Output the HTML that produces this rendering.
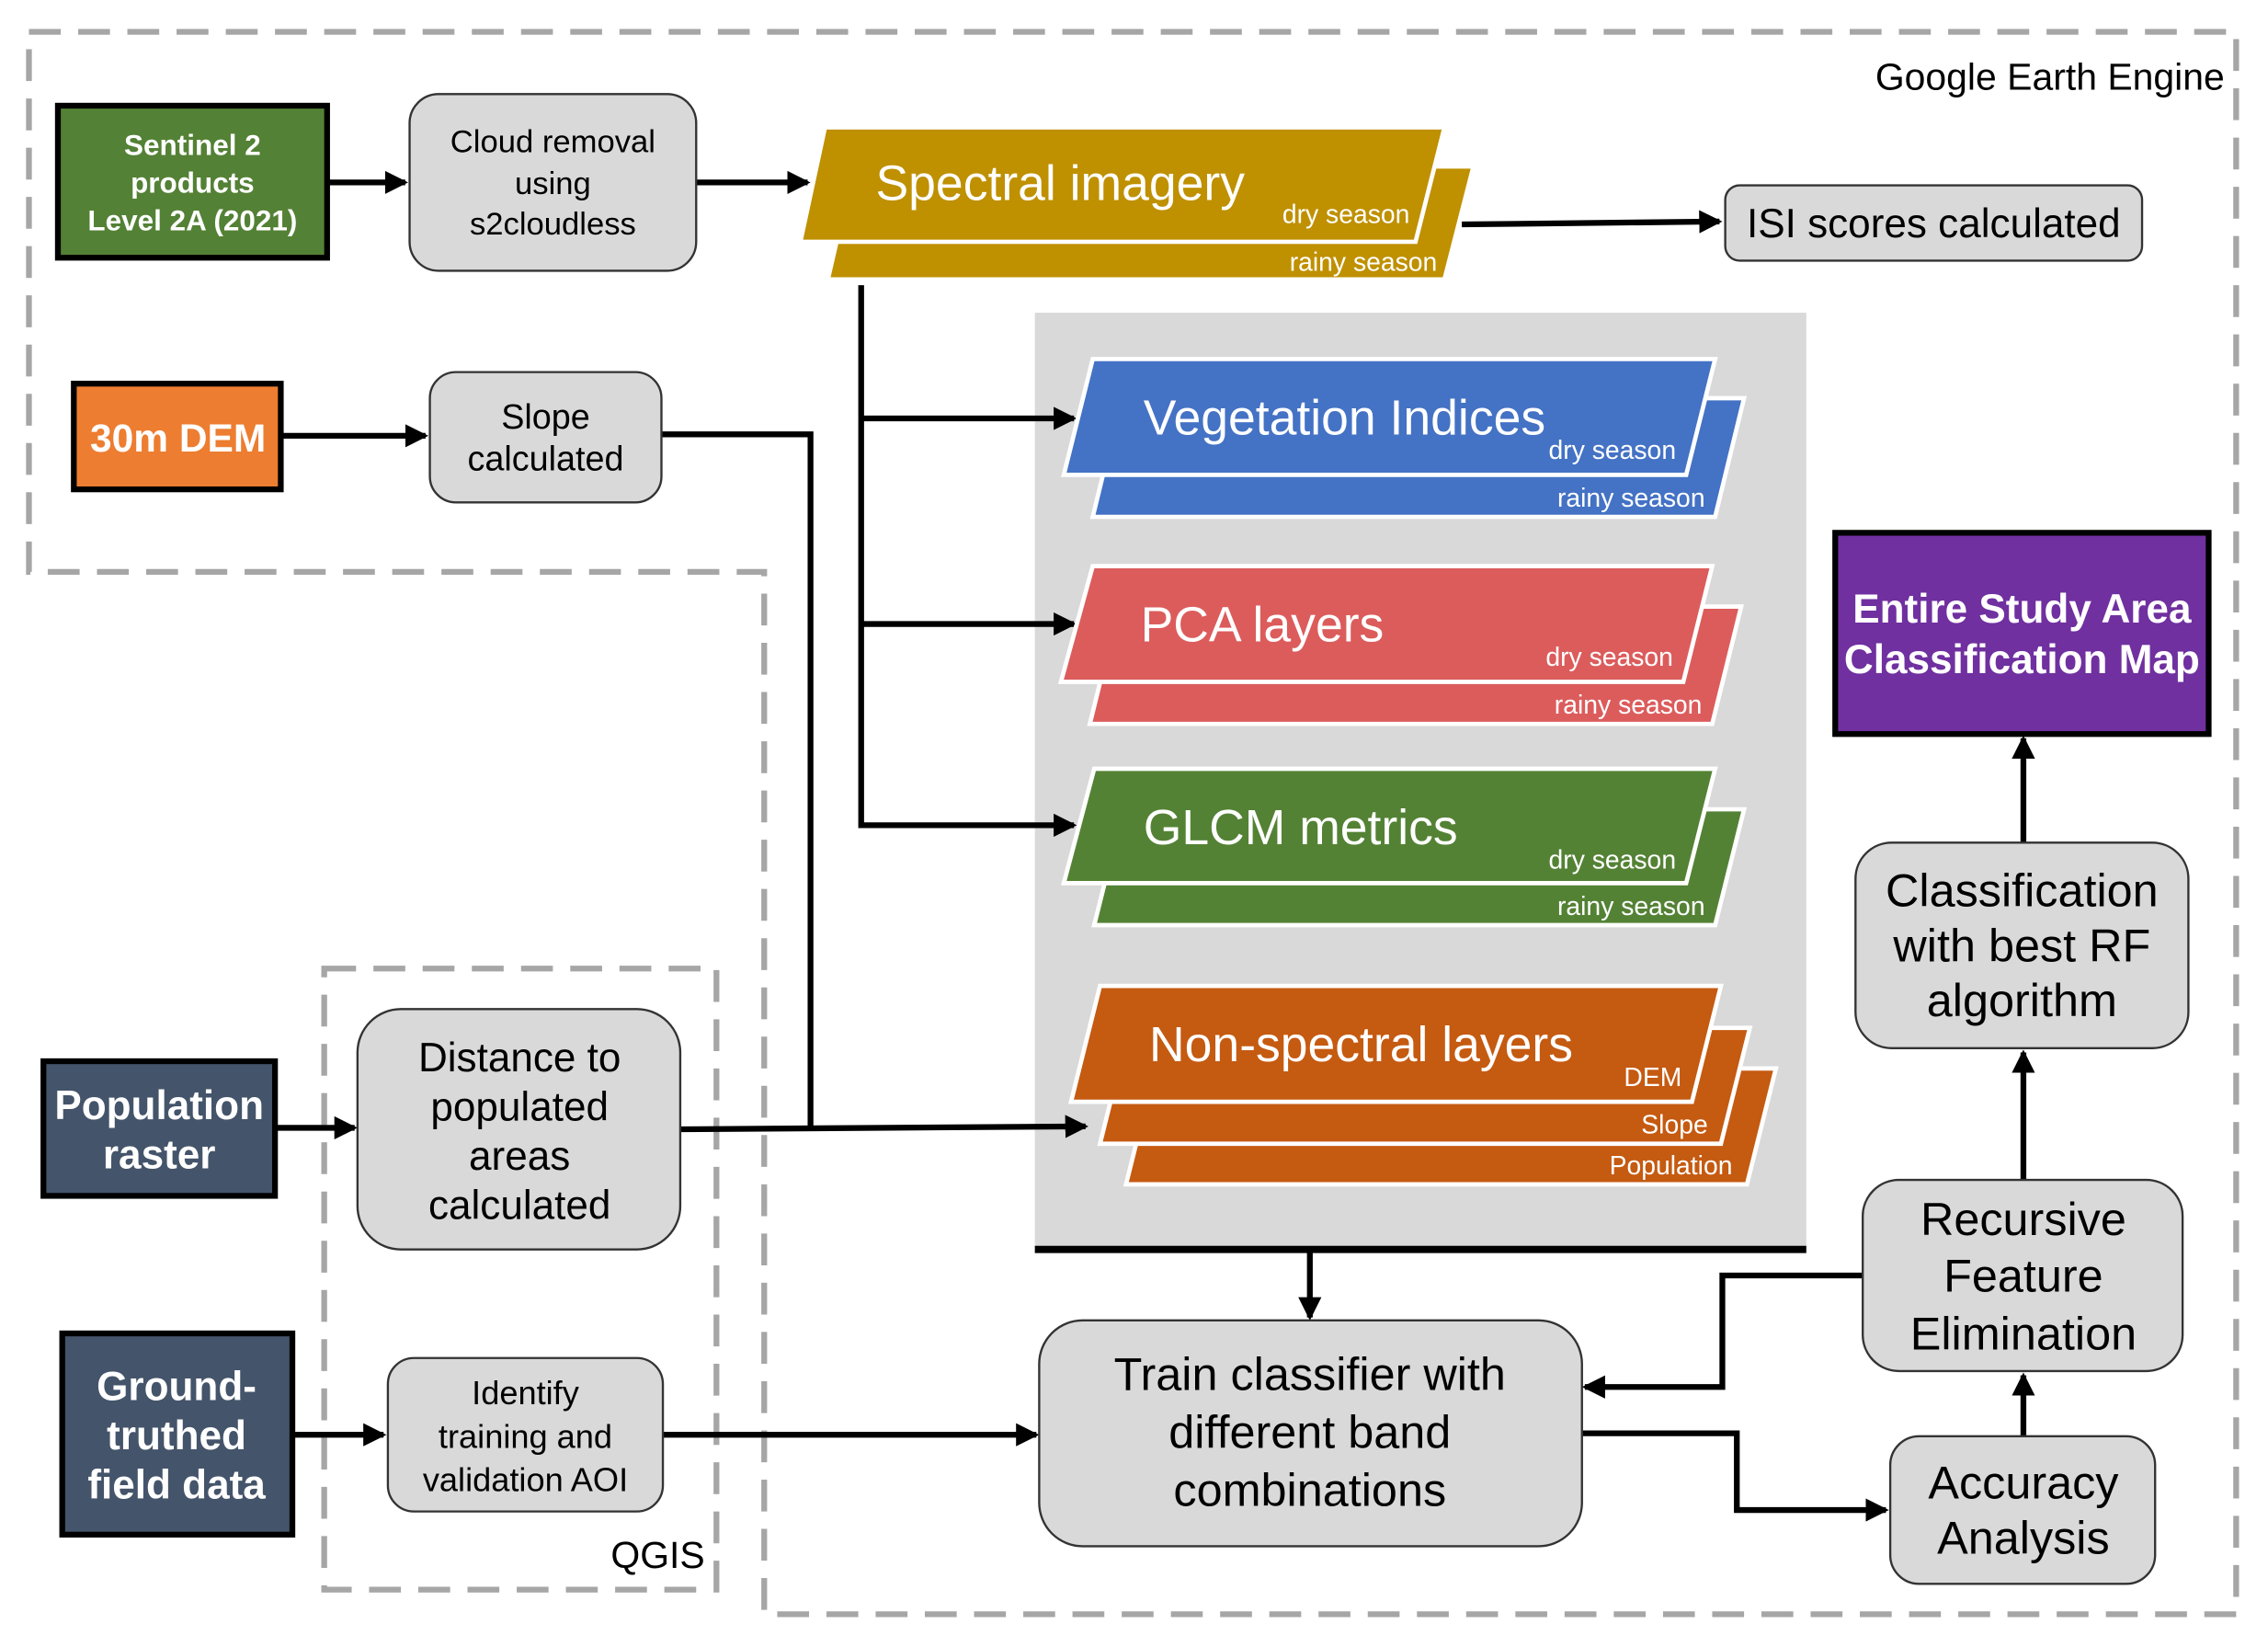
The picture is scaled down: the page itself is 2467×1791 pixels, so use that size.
<!DOCTYPE html>
<html><head><meta charset="utf-8"><style>
html,body{margin:0;padding:0;background:#fff;}
svg{display:block;font-family:"Liberation Sans",sans-serif;}
</style></head><body>
<svg width="2467" height="1791" viewBox="0 0 1567 1137.6" xmlns="http://www.w3.org/2000/svg">
<defs>
<marker id="b" markerWidth="16" markerHeight="16" refX="14" refY="8" orient="auto" markerUnits="userSpaceOnUse"><path d="M0,0 L16,8 L0,16 z" fill="#000"/></marker></defs>
<rect width="1570" height="1140" fill="#fff"/>
<path d="M20,22 H1545 V1115 H528 V395 H20 Z" fill="none" stroke="#a6a6a6" stroke-width="4" stroke-dasharray="22,12"/>
<rect x="224" y="669" width="271" height="429" fill="none" stroke="#a6a6a6" stroke-width="4" stroke-dasharray="22,12"/>
<text x="1537" y="62" font-size="26" text-anchor="end">Google Earth Engine</text>
<text x="487" y="1083" font-size="26" text-anchor="end">QGIS</text>
<rect x="715" y="216" width="533" height="646" fill="#d9d9d9"/>
<line x1="715" y1="863" x2="1248" y2="863" stroke="#000" stroke-width="5"/>
<g stroke="#000" stroke-width="4" fill="none">
<line x1="226" y1="126" x2="280" y2="126" marker-end="url(#b)"/>
<line x1="481" y1="126" x2="558" y2="126" marker-end="url(#b)"/>
<line x1="1010" y1="155" x2="1188" y2="153" marker-end="url(#b)"/>
<line x1="194" y1="301" x2="294" y2="301" marker-end="url(#b)"/>
<polyline points="457,300 560,300 560,778"/>
<line x1="470" y1="780" x2="750" y2="778" marker-end="url(#b)"/>
<polyline points="595,197 595,570 742,570" marker-end="url(#b)"/>
<line x1="595" y1="289" x2="742" y2="289" marker-end="url(#b)"/>
<line x1="595" y1="431" x2="742" y2="431" marker-end="url(#b)"/>
<line x1="905" y1="863" x2="905" y2="910" marker-end="url(#b)"/>
<line x1="190" y1="779" x2="245" y2="779" marker-end="url(#b)"/>
<line x1="202" y1="991" x2="265" y2="991" marker-end="url(#b)"/>
<line x1="458" y1="991" x2="716" y2="991" marker-end="url(#b)"/>
<polyline points="1093,990 1200,990 1200,1043 1303,1043" marker-end="url(#b)"/>
<line x1="1398" y1="992" x2="1398" y2="950" marker-end="url(#b)"/>
<polyline points="1287,881 1190,881 1190,958 1095,958" marker-end="url(#b)"/>
<line x1="1398" y1="815" x2="1398" y2="727" marker-end="url(#b)"/>
<line x1="1398" y1="582" x2="1398" y2="510" marker-end="url(#b)"/>
</g>
<rect x="40" y="73" width="186" height="105" fill="#538135" stroke="#000" stroke-width="4"/>
<g fill="#fff" font-weight="bold" font-size="20" text-anchor="middle"><text x="133" y="107">Sentinel 2</text><text x="133" y="133">products</text><text x="133" y="159">Level 2A (2021)</text></g>
<rect x="283" y="65" width="198" height="122" rx="20" fill="#d9d9d9" stroke="#333" stroke-width="1.5"/>
<g font-size="22" text-anchor="middle"><text x="382" y="105">Cloud removal</text><text x="382" y="134">using</text><text x="382" y="162">s2cloudless</text></g>
<rect x="1192" y="128" width="288" height="52" rx="10" fill="#d9d9d9" stroke="#333" stroke-width="1.5"/>
<text x="1336" y="164" font-size="28" text-anchor="middle">ISI scores calculated</text>
<rect x="51" y="265" width="143" height="73" fill="#ed7d31" stroke="#000" stroke-width="4"/>
<text x="123" y="312" font-size="27" font-weight="bold" fill="#fff" text-anchor="middle">30m DEM</text>
<rect x="297" y="257" width="160" height="90" rx="18" fill="#d9d9d9" stroke="#333" stroke-width="1.5"/>
<g font-size="24" text-anchor="middle"><text x="377" y="296">Slope</text><text x="377" y="325">calculated</text></g>
<g stroke="#fff" stroke-width="3">
<polygon points="590,115 1018,115 998,193 572,193" fill="#bf9000"/>
<polygon points="570,88 998,88 978,167 553,167" fill="#bf9000"/>
<polygon points="775,275 1205,275 1185,357 755,357" fill="#4472c4"/>
<polygon points="755,248 1185,248 1165,328 735,328" fill="#4472c4"/>
<polygon points="773,419 1203,419 1183,500 753,500" fill="#dc5c5c"/>
<polygon points="755,391 1183,391 1163,471 733,471" fill="#dc5c5c"/>
<polygon points="776,559 1205,559 1185,639 756,639" fill="#548235"/>
<polygon points="756,531 1185,531 1165,610 735,610" fill="#548235"/>
<polygon points="798,738 1227,738 1207,818 778,818" fill="#c55a11"/>
<polygon points="780,710 1209,710 1189,790 760,790" fill="#c55a11"/>
<polygon points="760,681 1189,681 1169,761 740,761" fill="#c55a11"/>
</g>
<g fill="#fff">
<text x="605" y="138" font-size="34">Spectral imagery</text>
<text x="974" y="154" font-size="18" text-anchor="end">dry season</text>
<text x="993" y="187" font-size="18" text-anchor="end">rainy season</text>
<text x="790" y="300" font-size="34">Vegetation Indices</text>
<text x="1158" y="317" font-size="18" text-anchor="end">dry season</text>
<text x="1178" y="350" font-size="18" text-anchor="end">rainy season</text>
<text x="788" y="443" font-size="34">PCA layers</text>
<text x="1156" y="460" font-size="18" text-anchor="end">dry season</text>
<text x="1176" y="493" font-size="18" text-anchor="end">rainy season</text>
<text x="790" y="583" font-size="34">GLCM metrics</text>
<text x="1158" y="600" font-size="18" text-anchor="end">dry season</text>
<text x="1178" y="632" font-size="18" text-anchor="end">rainy season</text>
<text x="794" y="733" font-size="34">Non-spectral layers</text>
<text x="1162" y="750" font-size="18" text-anchor="end">DEM</text>
<text x="1180" y="783" font-size="18" text-anchor="end">Slope</text>
<text x="1197" y="811" font-size="18" text-anchor="end">Population</text>
</g>
<rect x="30" y="733" width="160" height="93" fill="#44546a" stroke="#000" stroke-width="4"/>
<g fill="#fff" font-weight="bold" font-size="28" text-anchor="middle"><text x="110" y="773">Population</text><text x="110" y="807">raster</text></g>
<rect x="247" y="697" width="223" height="166" rx="30" fill="#d9d9d9" stroke="#333" stroke-width="1.5"/>
<g font-size="28" text-anchor="middle"><text x="359" y="740">Distance to</text><text x="359" y="774">populated</text><text x="359" y="808">areas</text><text x="359" y="842">calculated</text></g>
<rect x="43" y="921" width="159" height="139" fill="#44546a" stroke="#000" stroke-width="4"/>
<g fill="#fff" font-weight="bold" font-size="28" text-anchor="middle"><text x="122" y="967">Ground-</text><text x="122" y="1001">truthed</text><text x="122" y="1035">field data</text></g>
<rect x="268" y="938" width="190" height="106" rx="18" fill="#d9d9d9" stroke="#333" stroke-width="1.5"/>
<g font-size="23" text-anchor="middle"><text x="363" y="970">Identify</text><text x="363" y="1000">training and</text><text x="363" y="1030">validation AOI</text></g>
<rect x="718" y="912" width="375" height="156" rx="30" fill="#d9d9d9" stroke="#333" stroke-width="1.5"/>
<g font-size="32" text-anchor="middle"><text x="905" y="960">Train classifier with</text><text x="905" y="1000">different band</text><text x="905" y="1040">combinations</text></g>
<rect x="1306" y="992" width="183" height="102" rx="20" fill="#d9d9d9" stroke="#333" stroke-width="1.5"/>
<g font-size="32" text-anchor="middle"><text x="1398" y="1035">Accuracy</text><text x="1398" y="1073">Analysis</text></g>
<rect x="1287" y="815" width="221" height="132" rx="25" fill="#d9d9d9" stroke="#333" stroke-width="1.5"/>
<g font-size="32" text-anchor="middle"><text x="1398" y="853">Recursive</text><text x="1398" y="892">Feature</text><text x="1398" y="932">Elimination</text></g>
<rect x="1282" y="582" width="230" height="142" rx="25" fill="#d9d9d9" stroke="#333" stroke-width="1.5"/>
<g font-size="32" text-anchor="middle"><text x="1397" y="626">Classification</text><text x="1397" y="664">with best RF</text><text x="1397" y="702">algorithm</text></g>
<rect x="1268" y="368" width="258" height="139" fill="#7030a0" stroke="#000" stroke-width="4"/>
<g fill="#fff" font-weight="bold" font-size="28" text-anchor="middle"><text x="1397" y="430">Entire Study Area</text><text x="1397" y="465">Classification Map</text></g>
</svg>
</body></html>
